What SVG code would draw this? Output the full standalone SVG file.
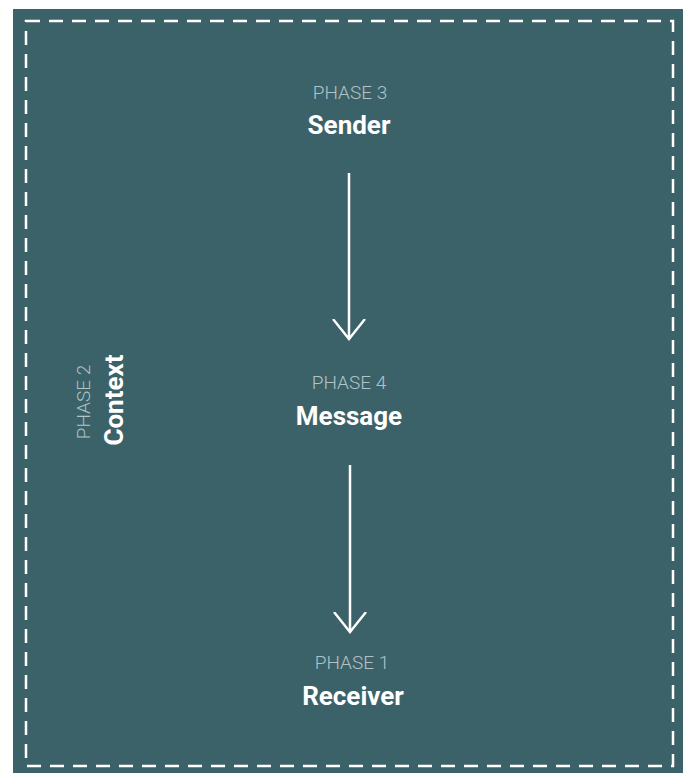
<svg xmlns="http://www.w3.org/2000/svg" width="692" height="773" viewBox="0 0 692 773">
<defs>
<style>
.phase{font-family:Roboto,"Liberation Sans",sans-serif;font-size:19px;font-weight:300;fill:#b0c3c7;text-anchor:middle}
.name{font-family:Roboto,"Liberation Sans",sans-serif;font-size:26px;font-weight:700;fill:#ffffff;text-anchor:middle}
.conn{stroke:#ffffff;stroke-width:2.5;fill:none}
</style>
<marker id="vhead" viewBox="0 0 22 34" refX="20" refY="17" markerWidth="22" markerHeight="34" markerUnits="userSpaceOnUse" orient="auto">
<path d="M0,1 L20,17 L0,33" fill="none" stroke="#ffffff" stroke-width="2.4"/>
</marker>
</defs>
<rect x="0" y="0" width="692" height="773" fill="#ffffff"/>
<g id="frame">
<rect x="13" y="9" width="670" height="770" fill="#3c6269"/>
<rect x="26" y="21" width="647" height="745" fill="none" stroke="#ffffff" stroke-width="2.5" stroke-dasharray="14,9"/>
</g>
<g id="connectors">
<line class="conn" x1="349" y1="173" x2="349" y2="339" marker-end="url(#vhead)"/>
<line class="conn" x1="350" y1="465" x2="350" y2="632" marker-end="url(#vhead)"/>
</g>
<g id="sender">
<text class="phase" x="350" y="99">PHASE 3</text>
<text class="name" x="349" y="134">Sender</text>
</g>
<g id="message">
<text class="phase" x="349" y="389">PHASE 4</text>
<text class="name" x="349" y="425">Message</text>
</g>
<g id="receiver">
<text class="phase" x="352" y="669">PHASE 1</text>
<text class="name" x="353" y="705">Receiver</text>
</g>
<g id="context">
<text class="phase" transform="translate(90,402) rotate(-90)">PHASE 2</text>
<text class="name" transform="translate(123,400) rotate(-90)">Context</text>
</g>
</svg>
